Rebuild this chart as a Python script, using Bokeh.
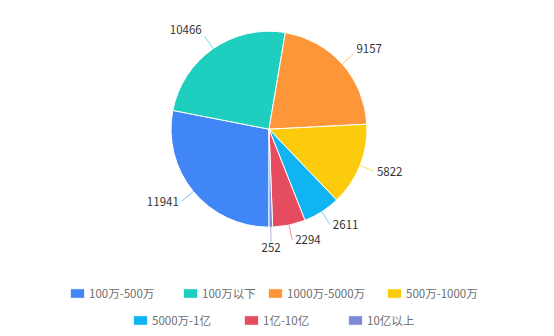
import math
from bokeh.plotting import figure
from bokeh.models import ColumnDataSource, Legend, LegendItem, Range1d
from bokeh.core.properties import value
from bokeh.embed import file_html
from bokeh.resources import INLINE

# ---- data ----
categories = ["100万-500万", "100万以下", "1000万-5000万", "500万-1000万",
              "5000万-1亿", "1亿-10亿", "10亿以上"]
counts = [11941, 10466, 9157, 5822, 2611, 2294, 252]
colors = ["#4086f6", "#1ecebe", "#fc9638", "#fccc0c", "#10b4f0", "#e54c5f", "#7d8ad8"]

# ---- layout ----
W, H = 554, 336
CX, CY, R = 268.5, 207.3, 98.0
LINE_LEN = 15.0
START_DEG = 180.0  # clockwise from 12 o'clock
FONT = "Noto Sans CJK SC"
legend_rows = [
    ([0, 1, 2, 3], [68, 181, 266, 385], 35.5),
    ([4, 5, 6], [131, 242, 346], 8.5),
]

total = sum(counts)
starts, ends, mids = [], [], []
cum = 0.0
for v in counts:
    t0 = START_DEG + 360.0 * cum / total
    cum += v
    t1 = START_DEG + 360.0 * cum / total
    starts.append(math.radians(90.0 - t0))
    ends.append(math.radians(90.0 - t1))
    mids.append(math.radians((t0 + t1) / 2.0))

ex = [CX + R * math.sin(m) for m in mids]
ey = [CY + R * math.cos(m) for m in mids]
lx = [CX + (R + LINE_LEN) * math.sin(m) for m in mids]
ly = [CY + (R + LINE_LEN) * math.cos(m) for m in mids]
align, xoff, yoff = [], [], []
for m in mids:
    s, c = math.sin(m), math.cos(m)
    if abs(s) < 0.1:
        align.append("center"); xoff.append(0); yoff.append(5)
    elif s > 0:
        align.append("left"); xoff.append(3); yoff.append(-8 * max(c, 0))
    else:
        align.append("right"); xoff.append(-3); yoff.append(-8 * max(c, 0))

src = ColumnDataSource(dict(
    cat=categories, val=counts, color=colors,
    start=starts, end=ends,
    ex=ex, ey=ey, lx=lx, ly=ly,
    label=[str(v) for v in counts], align=align, xoff=xoff, yoff=yoff,
))

p = figure(width=W, height=H, output_backend="svg", toolbar_location=None,
           x_range=Range1d(0, W), y_range=Range1d(0, H), min_border=0)
p.axis.visible = False
p.grid.visible = False
p.outline_line_color = None
p.background_fill_color = "white"
p.border_fill_color = "white"

wr = p.wedge(x=CX, y=CY, radius=R, start_angle="start", end_angle="end",
             direction="clock", fill_color="color", line_color="white",
             line_width=1, source=src)

p.segment(x0="ex", y0="ey", x1="lx", y1="ly", line_color="color",
          line_alpha=0.6, line_width=1, source=src)

p.text(x="lx", y="ly", text="label", text_align="align", text_baseline="middle",
       x_offset="xoff", y_offset="yoff", text_font=value(FONT),
       text_font_size="11.5px", text_color="#333333", source=src)

for idxs, xs, yb in legend_rows:
    for i, x in zip(idxs, xs):
        lg = Legend(items=[LegendItem(label=categories[i], renderers=[wr], index=i)],
                    location=(x, yb), orientation="horizontal",
                    glyph_width=18, glyph_height=12, label_standoff=3,
                    label_height=12, padding=0, margin=0, spacing=0,
                    border_line_color=None, background_fill_alpha=0,
                    label_text_font=FONT, label_text_font_size="11.5px",
                    label_text_color="#6e6e6e")
        p.add_layout(lg, "center")

open("out.html", "w").write(file_html(p, INLINE))
